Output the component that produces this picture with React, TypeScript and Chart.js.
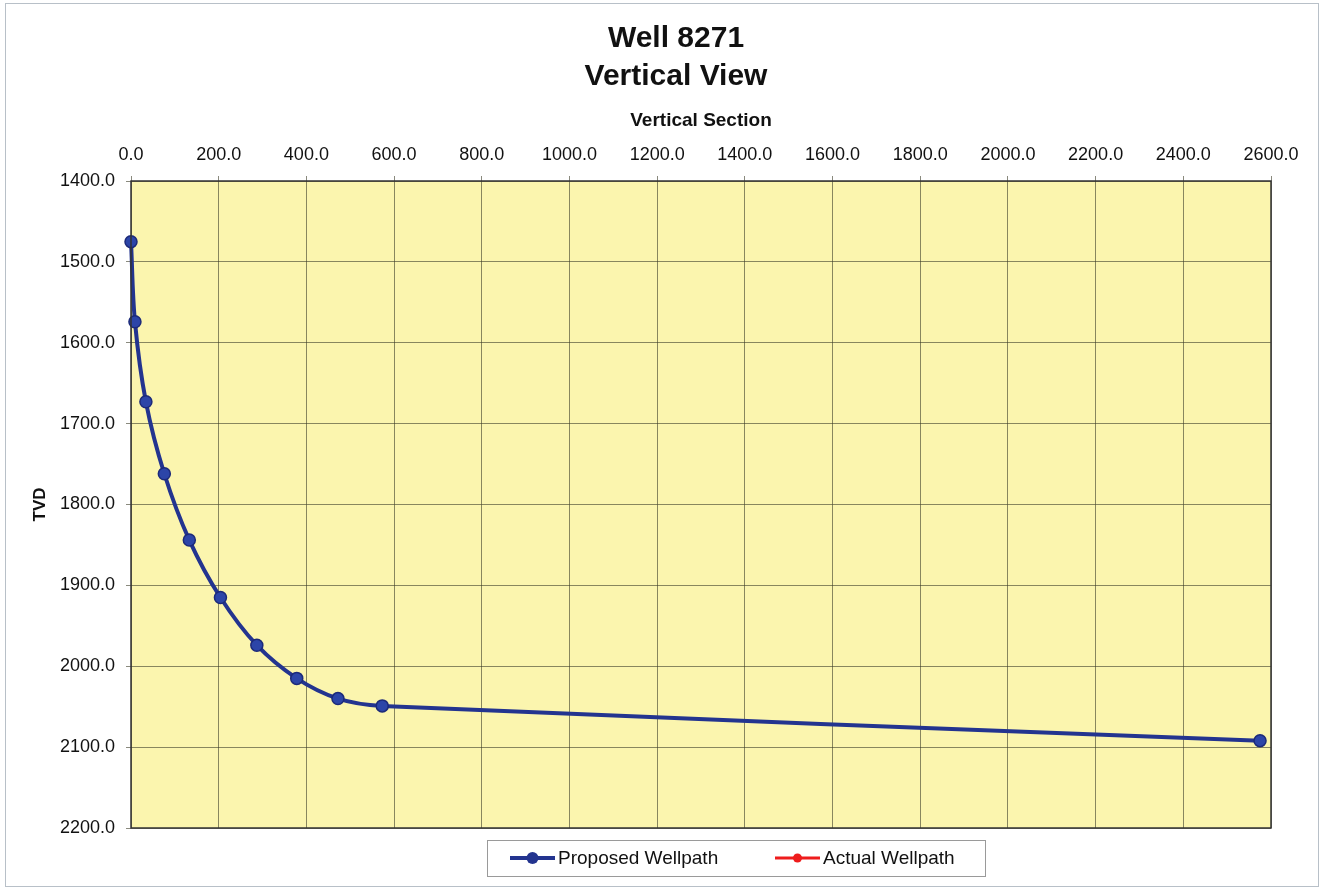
import React, { useEffect, useRef } from "react";
import { Chart, registerables } from "chart.js";

Chart.register(...registerables);

const titleLines = ["Well 8271", "Vertical View"];
const xAxisTitle = "Vertical Section";
const yAxisTitle = "TVD";
const proposedVS = [0, 9, 34, 76, 133, 204, 287, 378, 472, 573, 2575];
const proposedTVD = [1475, 1574, 1673, 1762, 1844, 1915, 1974, 2015, 2040, 2049, 2092];
const actualVS: number[] = [];
const actualTVD: number[] = [];
const seriesNames = ["Proposed Wellpath", "Actual Wellpath"];

const FONT = "'Liberation Sans', Arial, sans-serif";
const NAVY = "#23348f";
const RED = "#ee1c1c";

export default function App() {
  const ref = useRef<HTMLCanvasElement | null>(null);
  useEffect(() => {
    document.body.style.margin = "0";
    const canvas = ref.current!;
    const bgPlugin = {
      id: "bg",
      beforeDraw(chart: any) {
        const { ctx, chartArea: a } = chart;
        ctx.save();
        ctx.fillStyle = "#ffffff";
        ctx.fillRect(0, 0, chart.width, chart.height);
        ctx.strokeStyle = "#b8c0c8";
        ctx.lineWidth = 1;
        ctx.strokeRect(5.5, 3.5, chart.width - 11, chart.height - 6);
        ctx.fillStyle = "#fbf5ae";
        ctx.fillRect(a.left, a.top, a.right - a.left, a.bottom - a.top);
        ctx.restore();
      },
      afterDraw(chart: any) {
        const { ctx, chartArea: a } = chart;
        ctx.save();
        ctx.strokeStyle = "#333";
        ctx.lineWidth = 1.5;
        ctx.strokeRect(a.left, a.top, a.right - a.left, a.bottom - a.top);
        // titles
        ctx.fillStyle = "#111";
        ctx.textAlign = "center";
        ctx.textBaseline = "middle";
        ctx.font = `bold 30px ${FONT}`;
        ctx.fillText(titleLines[0], 676, 39);
        ctx.fillText(titleLines[1], 676, 77);
        // legend
        const bx = 487, by = 840, bw = 498, bh = 36;
        ctx.strokeStyle = "#9a9a9a";
        ctx.lineWidth = 1;
        ctx.strokeRect(bx + 0.5, by + 0.5, bw, bh);
        const items = [
          { x: 510, color: NAVY, w: 4, r: 6, name: seriesNames[0] },
          { x: 775, color: RED, w: 3, r: 4.5, name: seriesNames[1] },
        ];
        const cy = by + bh / 2;
        items.forEach((it) => {
          ctx.strokeStyle = it.color;
          ctx.lineWidth = it.w;
          ctx.beginPath();
          ctx.moveTo(it.x, cy);
          ctx.lineTo(it.x + 45, cy);
          ctx.stroke();
          ctx.fillStyle = it.color;
          ctx.beginPath();
          ctx.arc(it.x + 22.5, cy, it.r, 0, Math.PI * 2);
          ctx.fill();
          ctx.fillStyle = "#111";
          ctx.textAlign = "left";
          ctx.font = `19px ${FONT}`;
          ctx.fillText(it.name, it.x + 48, cy + 1);
        });
        ctx.restore();
      },
    };
    const chart = new Chart(canvas, {
      type: "line",
      data: {
        datasets: [
          {
            label: seriesNames[0],
            data: proposedVS.map((x, i) => ({ x, y: proposedTVD[i] })),
            borderColor: NAVY,
            backgroundColor: "#2c45a8",
            borderWidth: 4,
            pointRadius: 6,
            pointBorderColor: "#1c2a7a",
            pointBorderWidth: 1.5,
            tension: 0.35,
            clip: false as any,
          },
          {
            label: seriesNames[1],
            data: actualVS.map((x, i) => ({ x, y: actualTVD[i] })),
            borderColor: RED,
            backgroundColor: RED,
            borderWidth: 3,
            pointRadius: 4,
          },
        ],
      },
      options: {
        animation: false,
        responsive: false,
        layout: { padding: { top: 100, left: 30, right: 53, bottom: 61 } },
        plugins: { legend: { display: false }, title: { display: false }, tooltip: { enabled: false } },
        scales: {
          x: {
            type: "linear",
            position: "top",
            min: 0,
            max: 2600,
            afterFit(scale: any) { scale.height = 81; },
            ticks: {
              stepSize: 200,
              color: "#111",
              font: { family: FONT, size: 18 },
              padding: 10,
              maxRotation: 0,
              callback: (v: any) => Number(v).toFixed(1),
            },
            grid: { color: "rgba(60,60,40,0.6)", lineWidth: 1, tickLength: 5 },
            border: { display: false },
            title: {
              display: true,
              text: xAxisTitle,
              color: "#111",
              font: { family: FONT, size: 19, weight: "bold" },
              padding: { top: 9, bottom: 0 },
            },
          },
          y: {
            type: "linear",
            reverse: true,
            min: 1400,
            max: 2200,
            afterFit(scale: any) { scale.width = 101; },
            ticks: {
              stepSize: 100,
              color: "#111",
              font: { family: FONT, size: 18 },
              padding: 11,
              callback: (v: any) => Number(v).toFixed(1),
            },
            grid: { color: "rgba(60,60,40,0.6)", lineWidth: 1, tickLength: 5 },
            border: { display: false },
            title: {
              display: true,
              text: yAxisTitle,
              color: "#111",
              font: { family: FONT, size: 17, weight: "bold" },
              padding: { top: 0, bottom: 0 },
            },
          },
        },
      },
      plugins: [bgPlugin],
    } as any);
    return () => chart.destroy();
  }, []);
  return <canvas ref={ref} width={1324} height={889} style={{ display: "block" }} />;
}
